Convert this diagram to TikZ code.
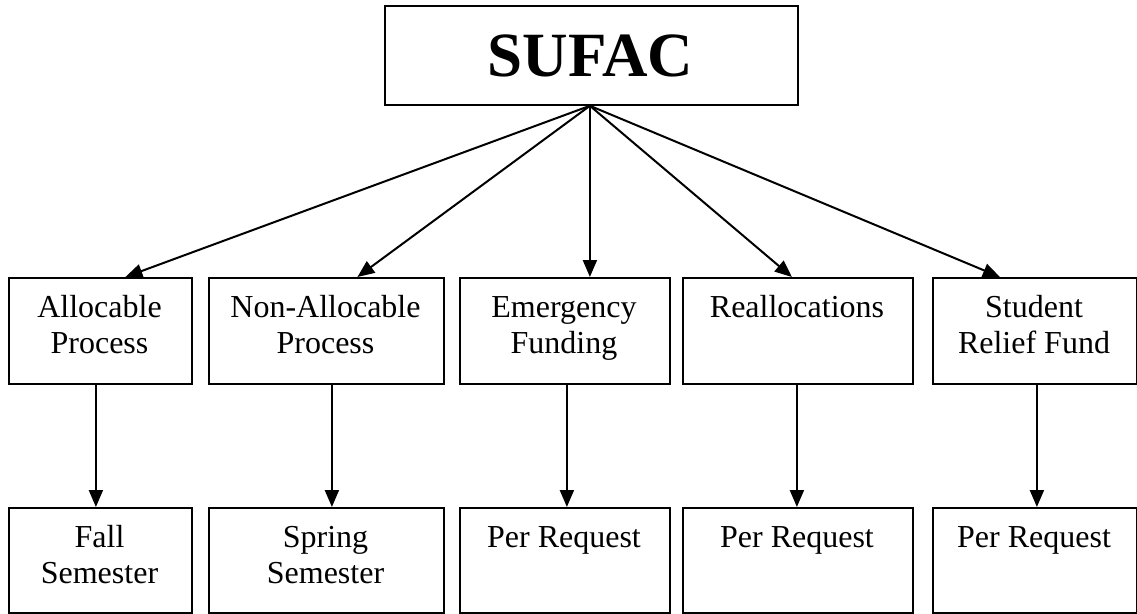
\documentclass[tikz,border=0pt]{standalone}
\usepackage{fontspec}
\setmainfont{Liberation Serif}
\usetikzlibrary{arrows.meta}
\begin{document}
\begin{tikzpicture}[x=1pt,y=-1pt,
  box/.style={draw=black, line width=1.8pt, rectangle, inner sep=0pt, anchor=north west},
  lbl/.style={anchor=north, inner sep=0pt, align=center, font=\fontsize{32}{36}\selectfont},
  arr/.style={line width=2pt, -{Triangle[length=17pt,width=14pt]}}]
\useasboundingbox (0,0) rectangle (1137,613);
% top box
\node[box, minimum width=413pt, minimum height=99pt] (top) at (384,5) {};
\node[anchor=base, inner sep=0pt, font=\fontsize{63}{70}\selectfont\bfseries] (toptxt) at (590.5,76) {SUFAC};
% middle row
\node[box, minimum width=183pt, minimum height=106pt] (a1) at (8,277) {};
\node[box, minimum width=235pt, minimum height=106pt] (a2) at (208,277) {};
\node[box, minimum width=210pt, minimum height=106pt] (a3) at (459,277) {};
\node[box, minimum width=230pt, minimum height=106pt] (a4) at (682,277) {};
\node[box, minimum width=204pt, minimum height=106pt] (a5) at (932,277) {};
\node[lbl] (a1t) at (99.5,291.8) {\strut Allocable\\Process};
\node[lbl] (a2t) at (325.5,291.8) {\strut Non-Allocable\\Process};
\node[lbl] (a3t) at (564,291.8) {\strut Emergency\\Funding};
\node[lbl] (a4t) at (797,291.8) {\strut Reallocations};
\node[lbl] (a5t) at (1034,291.8) {\strut Student\\Relief Fund};
% bottom row
\node[box, minimum width=183pt, minimum height=105pt] (b1) at (8,507) {};
\node[box, minimum width=235pt, minimum height=105pt] (b2) at (208,507) {};
\node[box, minimum width=210pt, minimum height=105pt] (b3) at (459,507) {};
\node[box, minimum width=230pt, minimum height=105pt] (b4) at (682,507) {};
\node[box, minimum width=204pt, minimum height=105pt] (b5) at (932,507) {};
\node[lbl] (b1t) at (99.5,521.8) {\strut Fall\\Semester};
\node[lbl] (b2t) at (325.5,521.8) {\strut Spring\\Semester};
\node[lbl] (b3t) at (564,521.8) {\strut Per Request};
\node[lbl] (b4t) at (797,521.8) {\strut Per Request};
\node[lbl] (b5t) at (1034,521.8) {\strut Per Request};
% top arrows
\coordinate (src) at ([xshift=-1.5pt]top.south);
\draw[arr] (src) -- ([xshift=25pt]a1.north);
\draw[arr] (src) -- ([xshift=31pt]a2.north);
\draw[arr] (src) -- ([xshift=25pt]a3.north);
\draw[arr] (src) -- ([xshift=-6pt]a4.north);
\draw[arr] (src) -- ([xshift=-35pt]a5.north);
% lower arrows
\draw[arr] ([xshift=-4.5pt]a1.south) -- ([xshift=-4.5pt]b1.north);
\draw[arr] ([xshift=5.5pt]a2.south) -- ([xshift=5.5pt]b2.north);
\draw[arr] ([xshift=2pt]a3.south) -- ([xshift=2pt]b3.north);
\draw[arr] ([xshift=-1pt]a4.south) -- ([xshift=-1pt]b4.north);
\draw[arr] ([xshift=2pt]a5.south) -- ([xshift=2pt]b5.north);
\end{tikzpicture}
\end{document}
